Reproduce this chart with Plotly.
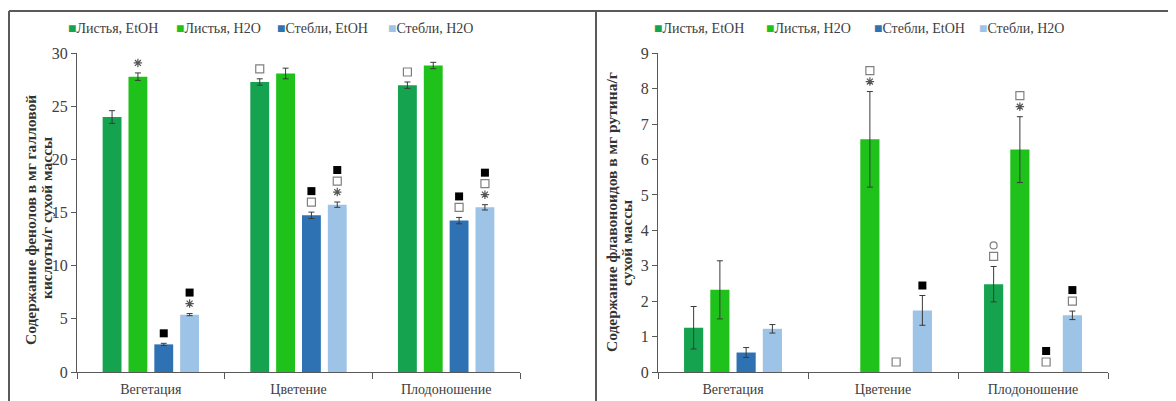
import plotly.graph_objects as go

W, H = 1176, 401
OFF = 8  # page margin of the browser: screenshot px = figure px + OFF

stages = ["Вегетация", "Цветение", "Плодоношение"]
series_names = ["Листья, EtOH", "Листья, H2O", "Стебли, EtOH", "Стебли, H2O"]
colors = ["#16a34f", "#1fc21a", "#2e72b4", "#9dc3e6"]

# Left panel: phenols, mg gallic acid / g dry mass
phen_vals = [
    [24.0, 27.3, 27.0],
    [27.8, 28.1, 28.85],
    [2.6, 14.75, 14.25],
    [5.4, 15.75, 15.5],
]
phen_err = [
    [0.6, 0.3, 0.3],
    [0.35, 0.5, 0.3],
    [0.1, 0.3, 0.3],
    [0.1, 0.25, 0.25],
]
phen_marks = [
    ["", "□", "□"],
    ["*", "", "*□"],
    ["■", "□■", "□■"],
    ["*■", "*□■", "*□■"],
]

# Right panel: flavonoids, mg rutin / g dry mass (None = not detected)
flav_vals = [
    [1.25, None, 2.48],
    [2.32, 6.57, 6.28],
    [0.55, None, None],
    [1.22, 1.74, 1.6],
]
flav_err = [
    [0.6, None, 0.5],
    [0.82, 1.35, 0.93],
    [0.14, None, None],
    [0.12, 0.42, 0.12],
]
flav_marks = [
    ["", "", "□○"],
    ["", "*□", "*□"],
    ["", "□", "□■"],
    ["", "■", "□■"],
]

left_title = ["Содержание фенолов в мг галловой", "кислоты/г сухой массы"]
right_title = ["Содержание флавоноидов в мг рутина/г", "сухой массы"]
left_range = [0, 30]
right_range = [0, 9]

FONT = "Liberation Serif, Tinos, Times New Roman, DejaVu Serif, Noto Serif, serif"
TXT = "#404040"
BARGAP = 0.3
BARGROUPGAP = 0.27


def px_x(sx):
    return (sx - OFF) / W


def px_y(sy):
    return (H - (sy - OFF)) / H


# domains (reference screenshot pixels)
y_bot_px, y_top_px = 372, 53.3
ydom = [px_y(y_bot_px), px_y(y_top_px)]
plot_h = y_bot_px - y_top_px
xdom_l = [px_x(77), px_x(520)]
xdom_r = [px_x(658), px_x(1108)]

mark_style = {
    "*": dict(symbol="asterisk-open", size=7, color="#555555", line=dict(width=1.2, color="#555555")),
    "□": dict(symbol="square-open", size=8, color="#808080", line=dict(width=1.2, color="#808080")),
    "■": dict(symbol="square", size=8, color="#000000", line=dict(width=0)),
    "○": dict(symbol="circle-open", size=7, color="#808080", line=dict(width=1.2, color="#808080")),
}

fig = go.Figure()


def add_panel(vals, errs, marks, xa, ya, xm, yrange):
    n = len(vals)
    slot = (1 - BARGAP) / n
    unit_px = plot_h / (yrange[1] - yrange[0])
    for k in range(n):
        fig.add_trace(go.Bar(
            x=stages, y=vals[k], name=series_names[k], showlegend=False,
            marker=dict(color=colors[k], line=dict(width=0)),
            error_y=dict(type="data", array=errs[k], color="#3a3a3a", thickness=1, width=3,
                         visible=True),
            xaxis=xa, yaxis=ya,
        ))
    # significance markers
    pts = {s: ([], []) for s in mark_style}
    for k in range(n):
        for i in range(len(stages)):
            top = (vals[k][i] or 0) + (errs[k][i] or 0)
            xc = i - (1 - BARGAP) / 2 + (k + 0.5) * slot
            for j, ch in enumerate(marks[k][i]):
                pts[ch][0].append(xc)
                pts[ch][1].append(top + (10 + 11 * j) / unit_px)
    for ch, (xs, ys) in pts.items():
        if not xs:
            continue
        st = mark_style[ch]
        fig.add_trace(go.Scatter(
            x=xs, y=ys, mode="markers", showlegend=False, hoverinfo="skip", cliponaxis=False,
            marker=dict(symbol=st["symbol"], size=st["size"], color=st["color"], line=st["line"]),
            xaxis=xm, yaxis=ya,
        ))


add_panel(phen_vals, phen_err, phen_marks, "x", "y", "x3", left_range)
add_panel(flav_vals, flav_err, flav_marks, "x2", "y2", "x4", right_range)

xcat = dict(
    type="category", range=[-0.5, 2.5], showline=True, linecolor="#595959", linewidth=1,
    ticks="outside", tickson="boundaries", ticklen=6, tickcolor="#595959", tickwidth=1,
    tickfont=dict(family=FONT, size=14, color=TXT), showgrid=False, zeroline=False,
    ticklabelstandoff=4, automargin=False,
)
yax = dict(
    showline=True, linecolor="#595959", linewidth=1, ticks="outside", ticklen=5,
    tickcolor="#595959", tickfont=dict(family=FONT, size=16, color=TXT),
    showgrid=False, zeroline=False, domain=ydom, automargin=False,
)
xhid = dict(type="linear", range=[-0.5, 2.5], visible=False, showgrid=False, zeroline=False)

annotations = []
# legends (one per panel), drawn as text with coloured square glyphs
legend_x_left = [66, 174, 275, 386]
legend_x_right = [652, 764, 872, 977]
for xs in (legend_x_left, legend_x_right):
    for k, name in enumerate(series_names):
        annotations.append(dict(
            xref="paper", yref="paper", x=px_x(xs[k]), y=px_y(29), xanchor="left", yanchor="middle",
            text=f'<span style="color:{colors[k]}">■</span>{name}', showarrow=False,
            font=dict(family=FONT, size=14, color=TXT),
        ))
# axis titles
for (txt, xpx, ypx) in [(left_title[0], 31, 220), (left_title[1], 46, 218),
                        (right_title[0], 611, 212), (right_title[1], 626, 243)]:
    annotations.append(dict(
        xref="paper", yref="paper", x=px_x(xpx), y=px_y(ypx), xanchor="center", yanchor="middle",
        text=f"<b>{txt}</b>", textangle=-90, showarrow=False,
        font=dict(family=FONT, size=15.5, color="#333333"),
    ))

fig.update_layout(
    width=W, height=H, margin=dict(l=0, r=0, t=0, b=0, autoexpand=False),
    paper_bgcolor="white", plot_bgcolor="white",
    barmode="group", bargap=BARGAP, bargroupgap=BARGROUPGAP,
    showlegend=False,
    xaxis=dict(xcat, domain=xdom_l, anchor="y"),
    yaxis=dict(yax, range=left_range, dtick=5, anchor="x"),
    xaxis2=dict(xcat, domain=xdom_r, anchor="y2"),
    yaxis2=dict(yax, range=right_range, dtick=1, anchor="x2"),
    xaxis3=dict(xhid, overlaying="x", anchor="y"),
    xaxis4=dict(xhid, overlaying="x2", anchor="y2"),
    annotations=annotations,
    shapes=[
        dict(type="line", xref="paper", yref="paper", x0=1 / W, x1=1, y0=px_y(11), y1=px_y(11),
             line=dict(color="#5a5a5a", width=2)),
        dict(type="line", xref="paper", yref="paper", x0=1 / W, x1=1 / W, y0=0, y1=px_y(11),
             line=dict(color="#5a5a5a", width=2)),
        dict(type="line", xref="paper", yref="paper", x0=px_x(596), x1=px_x(596), y0=0, y1=px_y(11),
             line=dict(color="#5a5a5a", width=2)),
    ],
)

fig.write_html("out.html")
